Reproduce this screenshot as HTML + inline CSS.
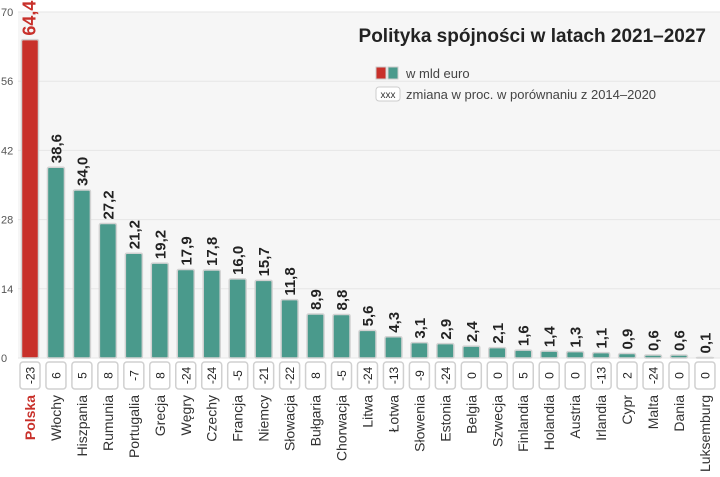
<!DOCTYPE html>
<html><head><meta charset="utf-8"><style>
html,body{margin:0;padding:0;background:#fff}
svg{display:block;font-family:"Liberation Sans Narrow","Liberation Sans",sans-serif}
</style></head><body>
<svg id="c" width="720" height="477" viewBox="0 0 720 477">
<rect x="0" y="0" width="720" height="477" fill="#fff"/>
<rect x="18" y="12" width="702" height="346" fill="#f6f6f6"/>
<g id="grid"></g>
<g id="bars"></g>
<text x="706" y="42" text-anchor="end" font-size="19" font-weight="bold" fill="#222">Polityka spójności w latach 2021–2027</text>
<g>
<rect x="376" y="67" width="10" height="12" fill="#c8302a" stroke="#ccc"/>
<rect x="388" y="67" width="10" height="12" fill="#4a9a8c" stroke="#ccc"/>
<text x="406" y="78" font-size="13" fill="#444">w mld euro</text>
<rect x="376" y="87" width="24" height="14" rx="3" fill="#fff" stroke="#ccc"/>
<text x="388" y="98" text-anchor="middle" font-size="10" fill="#333">xxx</text>
<text x="406" y="99" font-size="13" fill="#444">zmiana w proc. w porównaniu z 2014–2020</text>
</g>
</svg>
<script>
const countries=["Polska","Włochy","Hiszpania","Rumunia","Portugalia","Grecja","Węgry","Czechy","Francja","Niemcy","Słowacja","Bułgaria","Chorwacja","Litwa","Łotwa","Słowenia","Estonia","Belgia","Szwecja","Finlandia","Holandia","Austria","Irlandia","Cypr","Malta","Dania","Luksemburg"];
const values=[64.4,38.6,34.0,27.2,21.2,19.2,17.9,17.8,16.0,15.7,11.8,8.9,8.8,5.6,4.3,3.1,2.9,2.4,2.1,1.6,1.4,1.3,1.1,0.9,0.6,0.6,0.1];
const changes=[-23,6,5,8,-7,8,-24,-24,-5,-21,-22,8,-5,-24,-13,-9,-24,0,0,5,0,0,-13,2,-24,0,0];
const ticks=[0,14,28,42,56,70];
const NS="http://www.w3.org/2000/svg";
const y0=358, yTop=12, vmax=70;
function y(v){return y0-(v/vmax)*(y0-yTop);}
function x(i){return 30+i*25.96;}
function mk(tag,attrs,parent,txt){const e=document.createElementNS(NS,tag);for(const k in attrs)e.setAttribute(k,attrs[k]);if(txt!==undefined)e.textContent=txt;parent.appendChild(e);return e;}
const grid=document.getElementById('grid'),bars=document.getElementById('bars');
ticks.forEach(t=>{
  const l=mk('line',{x1:18,x2:720,y1:y(t),y2:y(t),stroke:'#e6e6e6','stroke-width':1},grid);
  
  
  const tx=mk('text',{x:1,y:y(t)+4,'font-size':11,fill:'#555'},grid,String(t));
  
  
});
countries.forEach((c,i)=>{
  const cx=x(i), red=i===0, col=red?'#c8302a':'#4a9a8c';
  const top=y(values[i]);
  const b=mk('rect',{x:cx-8.5,y:top,width:17,height:Math.max(y0-top,0.5),rx:1.5,fill:col,stroke:'#d2d2d2','stroke-width':1.5},bars);
  
  
  const v=mk('text',{x:cx+5.5,y:top-4,'font-size':red?18:15,'font-weight':'bold',fill:red?'#c8302a':'#222',transform:`rotate(-90 ${cx+5.5} ${top-4})`},bars,values[i].toFixed(1).replace('.',','));
  
  
  const bx=mk('rect',{x:cx-10,y:362,width:20,height:27,rx:3,fill:'#fff',stroke:'#d0d0d0','stroke-width':1.5},bars);
  
  
  const ct=mk('text',{x:cx+4.5,y:375.5,'text-anchor':'middle','font-size':12,fill:'#222',transform:`rotate(-90 ${cx+4.5} 375.5)`},bars,String(changes[i]));
  
  
  const lt=mk('text',{x:cx+5,y:395,'text-anchor':'end','font-size':14,'font-weight':red?'bold':'normal',fill:red?'#c8302a':'#333',transform:`rotate(-90 ${cx+5} 395)`},bars,c);
  
  
});
</script>
</body></html>
